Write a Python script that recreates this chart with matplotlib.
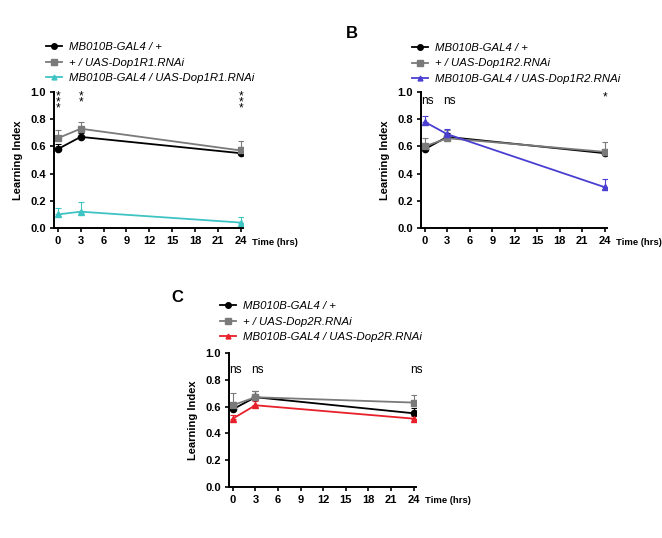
import matplotlib.pyplot as plt
from matplotlib.lines import Line2D
import numpy as np

plt.rcParams['font.family'] = ['Liberation Sans', 'DejaVu Sans']

times = [0, 3, 24]

# panel A: Dop1R1
a_ctrl = [0.58, 0.67, 0.55]
a_ctrl_err = [0.04, 0.03, 0.02]
a_uas = [0.66, 0.73, 0.57]
a_uas_err = [0.06, 0.05, 0.07]
a_kd = [0.10, 0.12, 0.04]
a_kd_err = [0.05, 0.07, 0.04]
a_sig = ['***', '**', '***']

# panel B: Dop1R2
b_ctrl = [0.58, 0.67, 0.55]
b_ctrl_err = [0.04, 0.03, 0.02]
b_uas = [0.60, 0.66, 0.56]
b_uas_err = [0.06, 0.06, 0.07]
b_kd = [0.78, 0.69, 0.30]
b_kd_err = [0.04, 0.04, 0.06]
b_sig = ['ns', 'ns', '*']

# panel C: Dop2R
c_ctrl = [0.58, 0.67, 0.55]
c_ctrl_err = [0.04, 0.05, 0.04]
c_uas = [0.61, 0.67, 0.63]
c_uas_err = [0.09, 0.05, 0.06]
c_kd = [0.51, 0.61, 0.51]
c_kd_err = [0.03, 0.03, 0.02]
c_sig = ['ns', 'ns', 'ns']

W, H = 662, 538
fig = plt.figure(figsize=(W / 100, H / 100), dpi=100)


def px_axes(left, right, top, bottom):
    return fig.add_axes([left / W, 1 - bottom / H, (right - left) / W, (bottom - top) / H])


def draw_panel(ax, ctrl, ctrl_err, uas, uas_err, kd, kd_err, kd_color, labels, leg_pos):
    series = [
        (ctrl, ctrl_err, 'black', 'o', 4.5, labels[0]),
        (uas, uas_err, '#7a7a7a', 's', 4.5, labels[1]),
        (kd, kd_err, kd_color, '^', 4, labels[2]),
    ]
    handles = []
    for vals, err, col, mk, ms, lab in series:
        ax.errorbar(times, vals, yerr=[np.zeros(3), err], color=col, marker=mk,
                    markersize=ms, lw=1.3, elinewidth=0.8, capsize=2, capthick=0.8)
        handles.append(Line2D([], [], color=col, marker=mk, markersize=ms - 0.5,
                              lw=1.3, label=lab))
    ax.set_xlim(-0.5, 24.3)
    ax.set_ylim(0, 1.0)
    ax.set_xticks(range(0, 25, 3))
    ax.set_yticks([0, 0.2, 0.4, 0.6, 0.8, 1.0])
    ax.set_yticklabels(['0.0', '0.2', '0.4', '0.6', '0.8', '1.0'])
    for s in ['top', 'right']:
        ax.spines[s].set_visible(False)
    for s in ['left', 'bottom']:
        ax.spines[s].set_linewidth(1.4)
    ax.tick_params(width=1.2, length=3, labelsize=8, pad=3)
    for t in ax.get_xticklabels() + ax.get_yticklabels():
        t.set_fontweight('bold')
    ax.set_ylabel('Learning Index', fontsize=8, fontweight='bold', labelpad=5)
    ax.text(1.05, -0.07, 'Time (hrs)', transform=ax.transAxes, fontsize=6.8,
            fontweight='bold', va='top', ha='left')
    fig.legend(handles=handles, loc='center left',
               bbox_to_anchor=(leg_pos[0] / W, 1 - leg_pos[1] / H),
               frameon=False, prop={'style': 'italic', 'size': 8.2},
               handlelength=1.4, handletextpad=0.6, labelspacing=0.5,
               borderpad=0, borderaxespad=0)


axA = px_axes(54, 243, 92, 228)
draw_panel(axA, a_ctrl, a_ctrl_err, a_uas, a_uas_err, a_kd, a_kd_err, '#3fc4c4',
           ['MB010B-GAL4 / +', '+ / UAS-Dop1R1.RNAi', 'MB010B-GAL4 / UAS-Dop1R1.RNAi'],
           (46, 62.5))
# stacked asterisks
for x, s in zip(times, a_sig):
    axA.text(x, 1.01, '\n'.join(s), ha='center', va='top', fontsize=8.5,
             linespacing=0.33)

axB = px_axes(421, 607, 92, 228)
draw_panel(axB, b_ctrl, b_ctrl_err, b_uas, b_uas_err, b_kd, b_kd_err, '#4a3fd0',
           ['MB010B-GAL4 / +', '+ / UAS-Dop1R2.RNAi', 'MB010B-GAL4 / UAS-Dop1R2.RNAi'],
           (412, 63.5))
for x, s in zip(times, b_sig):
    if s == 'ns':
        axB.text(x + 0.3, 0.935, s, ha='center', va='center', fontsize=8.5)
    else:
        axB.text(x, 0.96, s, ha='center', va='center', fontsize=8.5)
fig.text(346 / W, 1 - 34 / H, 'B', fontsize=12, fontweight='bold', va='center')

axC = px_axes(229, 416, 353, 487)
draw_panel(axC, c_ctrl, c_ctrl_err, c_uas, c_uas_err, c_kd, c_kd_err, '#e8202a',
           ['MB010B-GAL4 / +', '+ / UAS-Dop2R.RNAi', 'MB010B-GAL4 / UAS-Dop2R.RNAi'],
           (220, 321.7))
for x, s in zip(times, c_sig):
    axC.text(x + 0.3, 0.875, s, ha='center', va='center', fontsize=8.5)
fig.text(171 / W, 1 - 298 / H, 'C', fontsize=12, fontweight='bold', va='center')

fig.savefig('out.png', dpi=100)
